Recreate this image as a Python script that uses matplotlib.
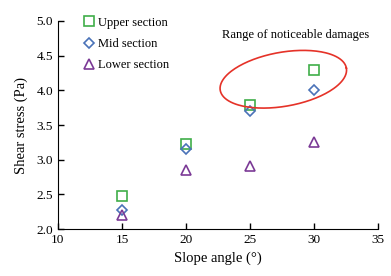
import numpy as np
import matplotlib.pyplot as plt

plt.rcParams['font.family'] = ['Liberation Serif', 'DejaVu Serif']
plt.rcParams['font.size'] = 9

angles = [15, 20, 25, 30]
upper = [2.47, 3.22, 3.79, 4.30]
mid = [2.27, 3.15, 3.70, 4.00]
lower = [2.21, 2.85, 2.91, 3.26]

fig = plt.figure(figsize=(3.91, 2.76), dpi=100)
ax = fig.add_axes([0.148, 0.170, 0.819, 0.754])

ax.plot(angles, upper, 's', mfc='none', mec='#3fae49', mew=1.2, ms=7, label='Upper section')
ax.plot(angles, mid, 'D', mfc='none', mec='#4a72b8', mew=1.2, ms=5, label='Mid section')
ax.plot(angles, lower, '^', mfc='none', mec='#7b3a96', mew=1.2, ms=7, label='Lower section')

ax.set_xlim(10, 35)
ax.set_ylim(2.0, 5.0)
ax.set_xticks([10, 15, 20, 25, 30, 35])
ax.set_yticks([2.0, 2.5, 3.0, 3.5, 4.0, 4.5, 5.0])
ax.yaxis.set_major_formatter(plt.FormatStrFormatter('%.1f'))
ax.tick_params(direction='in', length=4, width=1, labelsize=9.5)
ax.spines['top'].set_visible(False)
ax.spines['right'].set_visible(False)
ax.set_xlabel('Slope angle (°)', fontsize=10.5, labelpad=4)
ax.set_ylabel('Shear stress (Pa)', fontsize=10.5, labelpad=6)

# ellipse drawn in pixel-like units so the tilt looks right
sx = 12.8  # px per x unit
sy = 69.3  # px per y unit
cx, cy = 27.6, 4.16
a, b, th = 64, 27, np.deg2rad(10)
t = np.linspace(0, 2 * np.pi, 200)
dx = a * np.cos(t) * np.cos(th) - b * np.sin(t) * np.sin(th)
dy = a * np.cos(t) * np.sin(th) + b * np.sin(t) * np.cos(th)
ax.plot(cx + dx / sx, cy + dy / sy, color='#e53228', lw=1.2, clip_on=False)

ax.text(28.6, 4.80, 'Range of noticeable damages', ha='center', va='center')

ax.legend(loc='upper left', bbox_to_anchor=(0.04, 1.075), frameon=False,
          handletextpad=0.1, labelspacing=0.75, handlelength=1.2)

fig.savefig('out.png', dpi=100)
